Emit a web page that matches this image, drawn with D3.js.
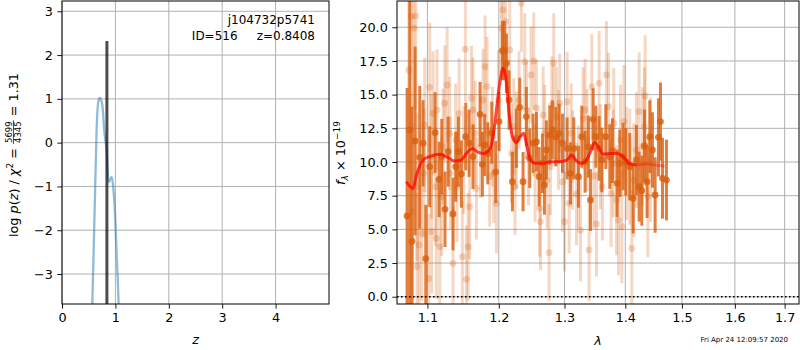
<!DOCTYPE html>
<html>
<head>
<meta charset="utf-8">
<script src="https://cdn.jsdelivr.net/npm/d3@7"></script>
<style>
  body { margin: 0; background: #fff; }
  svg { font-family: "DejaVu Sans", sans-serif; }
  text { white-space: pre; }
</style>
</head>
<body>
<svg id="fig" width="800" height="350"></svg>
<script>
// ---- p(z) panel data ----
var zGrid  = [0.545, 0.567, 0.59, 0.617, 0.648, 0.679, 0.705, 0.723, 0.745, 0.760, 0.791, 0.835, 0.873, 0.897, 0.929, 0.959, 0.996, 1.028, 1.060, 1.075];
var logPz  = [-4.6, -3.69, -2.6, -1.24, 0.28, 0.93, 1.02, 1.0, 0.92, 0.81, 0.28, -0.18, -0.90, -0.86, -0.78, -1.01, -1.70, -2.69, -3.69, -4.4];
var zTicks = [0, 1, 2, 3, 4];
var pzTicks = [-3, -2, -1, 0, 1, 2, 3];
var zBest = 0.8408;
var zBestTop = 2.32;
var objName = "j104732p5741";
var objLine = "ID=516     z=0.8408";

// ---- spectrum panel data ----
// dark points (lambda in micron, flux, 1-sigma)
var darkLam = [1.0731, 1.0766, 1.0796, 1.0836, 1.0898, 1.0942, 1.0978, 1.1031, 1.1103, 1.1158,
  1.1194, 1.1239, 1.1281, 1.1349, 1.1386, 1.1423, 1.1465, 1.1526, 1.1573, 1.1629,
  1.1729, 1.1762, 1.1796, 1.1840, 1.1897, 1.1955, 1.2004, 1.2053, 1.2082, 1.2112,
  1.2151, 1.2201, 1.2260, 1.2310, 1.2360, 1.2410, 1.2461, 1.2512, 1.2563, 1.2604,
  1.2655, 1.2686, 1.2717, 1.2769, 1.2810, 1.2862, 1.2915, 1.2968, 1.3042, 1.3095,
  1.3148, 1.3223, 1.3277, 1.3331, 1.3385, 1.3418, 1.3462, 1.3506, 1.3560, 1.3604,
  1.3671, 1.3738, 1.3782, 1.3861, 1.3906, 1.3962, 1.4008, 1.4076, 1.4134, 1.4191,
  1.4238, 1.4284, 1.4331, 1.4377, 1.4424, 1.4471, 1.4518, 1.4577, 1.4613, 1.4649, 1.4720];
var darkFlux = [5.99, 12.38, 4.11, 11.56, 10.35, 11.39, 2.82, 9.65, 12.18, 8.71,
  10.40, 6.49, 10.77, 6.14, 9.65, 10.77, 9.11, 11.88, 11.39, 10.40,
  13.54, 9.83, 11.26, 10.64, 12.18, 9.26, 13.0, 18.27, 18.27, 17.33,
  14.60, 8.54, 11.76, 14.06, 8.54, 13.37, 10.27, 11.39, 11.51, 8.91,
  9.90, 8.29, 10.89, 12.0, 12.38, 11.88, 12.13, 11.39, 11.01, 9.16,
  11.01, 8.91, 11.88, 10.02, 11.14, 7.18, 13.17, 11.88, 11.01, 10.15,
  11.88, 10.40, 10.84, 8.42, 9.90, 10.40, 10.02, 9.65, 7.30, 10.15,
  8.17, 7.87, 11.19, 8.54, 11.88, 10.89, 7.55, 11.83, 13.0, 8.79, 8.66];
var darkErr = [9.5, 13.0, 10.0, 7.0, 5.3, 3.2, 4.0, 3.0, 3.0, 2.8,
  2.8, 2.8, 2.6, 2.7, 2.6, 2.6, 2.5, 2.5, 2.5, 2.4,
  2.4, 2.4, 2.3, 2.3, 2.3, 2.3, 2.2, 2.2, 2.2, 2.2,
  2.2, 2.2, 2.2, 2.2, 2.2, 2.2, 2.2, 2.2, 2.2, 2.2,
  2.2, 2.2, 2.2, 2.2, 2.2, 2.2, 2.2, 2.2, 2.3, 2.3,
  2.3, 2.3, 2.3, 2.3, 2.3, 2.3, 2.3, 2.3, 2.4, 2.4,
  2.4, 2.4, 2.4, 2.5, 2.5, 2.5, 2.5, 2.5, 2.6, 2.6,
  2.6, 2.6, 2.7, 2.7, 2.7, 2.8, 2.8, 2.9, 2.9, 3.0, 3.0];

// light points
var lightLam = [1.0753, 1.0788, 1.0845, 1.0801, 1.0818, 1.0862, 1.0889, 1.0924, 1.0964, 1.1018,
  1.1031, 1.1058, 1.1076, 1.1121, 1.1130, 1.1167, 1.1194, 1.1235, 1.1267, 1.1303,
  1.1349, 1.1386, 1.1433, 1.1479, 1.1521, 1.1535, 1.1559, 1.1582, 1.1606, 1.1629,
  1.1677, 1.1734, 1.1772, 1.1801, 1.1830, 1.1868, 1.1907, 1.1965, 1.1994, 1.2038,
  1.2062, 1.2102, 1.2161, 1.2186, 1.2221, 1.2260, 1.2300, 1.2335, 1.2385, 1.2410,
  1.2481, 1.2522, 1.2563, 1.2614, 1.2624, 1.2666, 1.2691, 1.2727, 1.2758, 1.2800,
  1.2831, 1.2873, 1.2925, 1.2968, 1.3000, 1.3042, 1.3074, 1.3127, 1.3191, 1.3256,
  1.3299, 1.3331, 1.3396, 1.3440, 1.3473, 1.3517, 1.3560, 1.3615, 1.3682, 1.3715,
  1.3760, 1.3805, 1.3850, 1.3884, 1.3941, 1.3975, 1.4020, 1.4076, 1.4111, 1.4191,
  1.4238, 1.4296, 1.4343, 1.4390, 1.4437,
  1.0862, 1.0955, 1.1054, 1.1112, 1.1212, 1.1312, 1.1404, 1.1497, 1.1658, 1.1926,
  1.2240, 1.2441, 1.2543, 1.2779, 1.2904, 1.3106, 1.3223, 1.3363, 1.3582, 1.3794,
  1.3918, 1.4145, 1.4331];
var lightFlux = [16.83, 20.79, 20.84, 6.31, 19.93, 2.23, 3.84, 4.70, 12.75, 1.36,
  15.54, 4.83, 13.61, 4.33, 13.86, 3.71, 7.43, 14.36, 15.72, 12.13,
  2.48, 11.63, 13.61, 2.97, 18.37, 1.29, 3.71, 6.68, 14.73, 13.86,
  8.04, 11.14, 14.60, 17.08, 15.59, 8.91, 11.88, 6.93, 14.60, 19.93,
  21.29, 20.42, 18.32, 10.64, 12.62, 11.63, 14.60, 21.78, 17.45, 13.86,
  16.46, 17.50, 13.99, 6.56, 5.57, 13.49, 12.13, 8.66, 3.27, 14.23,
  17.33, 13.37, 14.36, 8.54, 5.57, 14.48, 6.93, 10.15, 7.62, 4.95,
  13.24, 13.86, 3.47, 15.59, 8.96, 5.40, 15.84, 8.17, 16.46, 14.11,
  7.67, 12.87, 7.18, 5.69, 5.20, 13.00, 9.90, 9.65, 3.59, 10.89,
  13.74, 11.14, 14.90, 7.43, 10.15,
  8.17, 9.16, 10.40, 8.17, 11.14, 9.16, 8.17, 10.15, 12.13, 9.16,
  8.17, 10.40, 9.16, 9.65, 11.63, 12.13, 8.91, 11.63, 10.40, 9.90,
  11.63, 8.66, 12.62];
var lightErr = [7.5, 8.0, 7.0, 6.5, 6.0, 5.5, 5.5, 5.0, 5.0, 4.8,
  4.8, 4.6, 4.6, 4.5, 4.5, 4.4, 4.4, 4.3, 4.3, 4.2,
  4.2, 4.2, 4.1, 4.1, 4.0, 4.0, 4.0, 3.9, 3.9, 3.9,
  3.8, 3.8, 3.8, 3.8, 3.7, 3.7, 3.7, 3.7, 3.7, 3.7,
  3.7, 3.7, 3.7, 3.7, 3.6, 3.6, 3.6, 3.6, 3.6, 3.6,
  3.6, 3.6, 3.6, 3.6, 3.6, 3.6, 3.6, 3.6, 3.6, 3.6,
  3.7, 3.7, 3.7, 3.7, 3.7, 3.7, 3.7, 3.7, 3.8, 3.8,
  3.8, 3.8, 3.8, 3.9, 3.9, 3.9, 3.9, 4.0, 4.0, 4.0,
  4.0, 4.1, 4.1, 4.1, 4.2, 4.2, 4.2, 4.3, 4.3, 4.3,
  4.4, 4.4, 4.5, 4.5, 4.6,
  5.5, 4.8, 4.6, 4.4, 4.3, 4.2, 4.1, 4.0, 3.9, 3.7,
  3.6, 3.6, 3.6, 3.6, 3.7, 3.7, 3.8, 3.8, 3.9, 4.0,
  4.1, 4.2, 4.4];

// best-fit model
var modelLam = [1.0722, 1.0808, 1.0862, 1.0942, 1.1031, 1.1167, 1.1258, 1.1372, 1.1465, 1.1535,
  1.1619, 1.1686, 1.1782, 1.1859, 1.1917, 1.1965, 1.2014, 1.2062, 1.2102, 1.2151,
  1.2201, 1.2260, 1.2320, 1.2370, 1.2420, 1.2471, 1.2553, 1.2666, 1.2769, 1.2925,
  1.3042, 1.3116, 1.3180, 1.3256, 1.3331, 1.3407, 1.3489, 1.3560, 1.3626, 1.3766,
  1.3861, 1.3962, 1.4065, 1.4191, 1.4366, 1.4512, 1.4690];
var modelFlux = [8.54, 8.04, 9.16, 10.15, 10.40, 10.57, 10.40, 10.07, 10.15, 10.64,
  11.01, 10.77, 10.64, 10.89, 11.88, 13.86, 15.84, 16.96, 16.34, 13.61,
  11.88, 11.44, 11.88, 12.13, 11.14, 10.15, 9.90, 9.90, 10.02, 10.02,
  10.15, 10.52, 10.15, 9.90, 10.02, 10.64, 11.44, 11.01, 10.59, 10.64,
  10.64, 10.40, 9.90, 9.78, 9.85, 9.78, 9.70];
var modelFadeFrom = 1.43;

var lamTicks = [1.1, 1.2, 1.3, 1.4, 1.5, 1.6, 1.7];
var fluxTicks = [0, 2.5, 5, 7.5, 10, 12.5, 15, 17.5, 20];
var stamp = "Fri Apr 24 12:09:57 2020";

var fs = 12.8;
var gridColor = "#b0b0b0";
var orange = "#d95f0e";

var svg = d3.select("#fig");

function panelFrame(box, xs, ys, xt, yt, fmtx, fmty, id) {
  var g = svg.append("g");
  // grid
  g.selectAll("line.gx").data(xt).enter().append("line")
    .attr("x1", function(d){ return xs(d); }).attr("x2", function(d){ return xs(d); })
    .attr("y1", box.y0).attr("y2", box.y1)
    .attr("stroke", gridColor).attr("stroke-width", 1);
  g.selectAll("line.gy").data(yt).enter().append("line")
    .attr("y1", function(d){ return ys(d); }).attr("y2", function(d){ return ys(d); })
    .attr("x1", box.x0).attr("x2", box.x1)
    .attr("stroke", gridColor).attr("stroke-width", 1);

  var ax = svg.append("g").attr("transform", "translate(0," + box.y1 + ")")
    .call(d3.axisBottom(xs).tickValues(xt).tickFormat(fmtx).tickSize(4.7).tickPadding(4.5));
  var ay = svg.append("g").attr("transform", "translate(" + box.x0 + ",0)")
    .call(d3.axisLeft(ys).tickValues(yt).tickFormat(fmty).tickSize(4.7).tickPadding(4.5));
  [ax, ay].forEach(function(a){
    a.select(".domain").remove();
    a.selectAll("text").attr("font-size", fs).attr("fill", "#000")
      .attr("font-family", "DejaVu Sans");
    a.selectAll("line").attr("stroke", "#000").attr("stroke-width", 0.9);
  });

  svg.append("clipPath").attr("id", id).append("rect")
    .attr("x", box.x0).attr("y", box.y0)
    .attr("width", box.x1 - box.x0).attr("height", box.y1 - box.y0);
  return svg.append("g").attr("clip-path", "url(#" + id + ")");
}

function spine(box) {
  svg.append("rect").attr("x", box.x0).attr("y", box.y0)
    .attr("width", box.x1 - box.x0).attr("height", box.y1 - box.y0)
    .attr("fill", "none").attr("stroke", "#000").attr("stroke-width", 1);
}

// ---------- left: p(z) ----------
var L = {x0: 62, x1: 329, y0: 1, y1: 304};
var zx = d3.scaleLinear().domain([0, 5]).range([L.x0, L.x1]);
var zy = d3.scaleLinear().domain([-3.685, 3.235]).range([L.y1, L.y0]);
var lp = panelFrame(L, zx, zy, zTicks, pzTicks, d3.format("d"), d3.format("d"), "clipL");

var pzData = zGrid.map(function(z, i){ return [z, logPz[i]]; });
lp.append("path").datum(pzData)
  .attr("d", d3.line().x(function(d){ return zx(d[0]); }).y(function(d){ return zy(d[1]); })
    .curve(d3.curveMonotoneX))
  .attr("fill", "none").attr("stroke", "#1f77b4").attr("stroke-opacity", 0.5)
  .attr("stroke-width", 2.3);

lp.append("line")
  .attr("x1", zx(zBest)).attr("x2", zx(zBest))
  .attr("y1", zy(-4)).attr("y2", zy(zBestTop))
  .attr("stroke", "#000").attr("stroke-opacity", 0.7).attr("stroke-width", 3);
spine(L);

svg.append("text").attr("x", 315).attr("y", 24).attr("text-anchor", "end")
  .attr("font-size", 12).text(objName);
svg.append("text").attr("x", 315).attr("y", 40).attr("text-anchor", "end")
  .attr("font-size", 12).text(objLine);

// x label
svg.append("text").attr("x", (L.x0 + L.x1) / 2).attr("y", 344).attr("text-anchor", "middle")
  .attr("font-size", fs).attr("font-style", "italic").text("z");

// y label with fraction
var yl = svg.append("g").attr("transform", "translate(17.5,155) rotate(-90)");
var t1 = yl.append("text").attr("font-size", fs);
t1.append("tspan").text("log ");
t1.append("tspan").attr("font-style", "italic").text("p");
t1.append("tspan").text("(");
t1.append("tspan").attr("font-style", "italic").text("z");
t1.append("tspan").text(") / ");
t1.append("tspan").attr("font-style", "italic").text("χ");
t1.append("tspan").attr("font-size", 9).attr("dy", -5).text("2");
t1.append("tspan").attr("dy", 5).text(" = ");
var w1 = t1.node().getComputedTextLength();
var num = yl.append("text").attr("font-size", 8.5).attr("text-anchor", "middle").attr("y", -5.5).text("5699");
var den = yl.append("text").attr("font-size", 8.5).attr("text-anchor", "middle").attr("y", 3).text("4345");
var wf = Math.max(num.node().getComputedTextLength(), den.node().getComputedTextLength()) + 2;
var t2 = yl.append("text").attr("font-size", fs).text(" = 1.31");
var w2 = t2.node().getComputedTextLength();
var total = w1 + wf + w2;
var x0 = -total / 2;
t1.attr("x", x0);
num.attr("x", x0 + w1 + wf / 2);
den.attr("x", x0 + w1 + wf / 2);
yl.append("line").attr("x1", x0 + w1).attr("x2", x0 + w1 + wf)
  .attr("y1", -4).attr("y2", -4).attr("stroke", "#000").attr("stroke-width", 0.7);
t2.attr("x", x0 + w1 + wf);

// ---------- right: spectrum ----------
var R = {x0: 397, x1: 799, y0: 1, y1: 304};
var lx = d3.scaleLog().domain([1.06, 1.73]).range([R.x0, R.x1]);
var fy = d3.scaleLinear().domain([-0.54, 21.95]).range([R.y1, R.y0]);
var rp = panelFrame(R, lx, fy, lamTicks, fluxTicks, d3.format(".1f"), d3.format(".1f"), "clipR");

function errPoints(lam, flux, err, alpha, r) {
  var pts = lam.map(function(l, i){ return {l: l, f: flux[i], e: err[i]}; });
  var g = rp.append("g");
  g.selectAll("line").data(pts).enter().append("line")
    .attr("x1", function(d){ return lx(d.l); }).attr("x2", function(d){ return lx(d.l); })
    .attr("y1", function(d){ return fy(d.f - d.e); }).attr("y2", function(d){ return fy(d.f + d.e); })
    .attr("stroke", orange).attr("stroke-opacity", alpha).attr("stroke-width", 3);
  g.selectAll("circle").data(pts).enter().append("circle")
    .attr("cx", function(d){ return lx(d.l); }).attr("cy", function(d){ return fy(d.f); })
    .attr("r", r).attr("fill", orange).attr("fill-opacity", alpha);
}
errPoints(lightLam, lightFlux, lightErr, 0.25, 3.4);
errPoints(darkLam, darkFlux, darkErr, 0.8, 3.4);

var mData = modelLam.map(function(l, i){ return [l, modelFlux[i]]; });
var mLine = d3.line().x(function(d){ return lx(d[0]); }).y(function(d){ return fy(d[1]); })
  .curve(d3.curveMonotoneX);
rp.append("path").datum(mData.filter(function(d){ return d[0] <= modelFadeFrom; }))
  .attr("d", mLine).attr("fill", "none").attr("stroke", "red")
  .attr("stroke-opacity", 0.72).attr("stroke-width", 3);
rp.append("path").datum(mData.filter(function(d){ return d[0] >= 1.4191; }))
  .attr("d", mLine).attr("fill", "none").attr("stroke", "red")
  .attr("stroke-opacity", 0.35).attr("stroke-width", 3);

rp.append("line").attr("x1", R.x0).attr("x2", R.x1)
  .attr("y1", fy(0)).attr("y2", fy(0))
  .attr("stroke", "#000").attr("stroke-width", 1.6).attr("stroke-dasharray", "1.6,2.4");
spine(R);

svg.append("text").attr("x", (R.x0 + R.x1) / 2).attr("y", 345).attr("text-anchor", "middle")
  .attr("font-size", fs).attr("font-style", "italic").text("λ");

var yr = svg.append("text").attr("transform", "translate(345,153) rotate(-90)")
  .attr("text-anchor", "middle").attr("font-size", fs);
yr.append("tspan").attr("font-style", "italic").text("f");
yr.append("tspan").attr("font-size", 9).attr("font-style", "italic").attr("dy", 3).text("λ");
yr.append("tspan").attr("dy", -3).text(" × 10");
yr.append("tspan").attr("font-size", 9).attr("dy", -5.5).text("−19");

svg.append("text").attr("x", 788).attr("y", 342).attr("text-anchor", "end")
  .attr("font-size", 7).text(stamp);
</script>
</body>
</html>
